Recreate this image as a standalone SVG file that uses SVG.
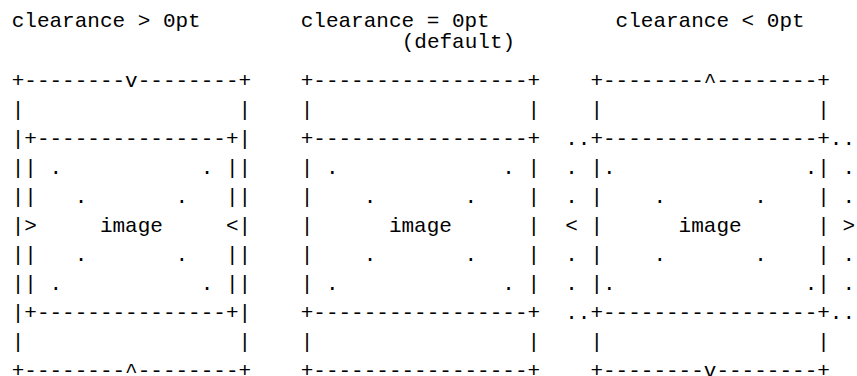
<svg xmlns="http://www.w3.org/2000/svg" width="857" height="376" viewBox="0 0 857 376" xml:space="preserve">
<style>
.t{font-family:"Liberation Mono","DejaVu Sans Mono",monospace;font-size:21px;fill:#000;white-space:pre}
</style>
<rect width="857" height="376" fill="#fff"/>
<g id="headers">
<text class="t" x="11.7" y="27">clearance &gt; 0pt</text>
<text class="t" x="300.7" y="27">clearance = 0pt</text>
<text class="t" x="401.7" y="48">(default)</text>
<text class="t" x="615.6" y="27">clearance &lt; 0pt</text>
</g>
<g id="panel-gt">
<text class="t" x="11.7" y="87.4">+--------v--------+</text>
<text class="t" x="11.7" y="116.4">|                 |</text>
<text class="t" x="11.7" y="145.4">|+---------------+|</text>
<text class="t" x="11.7" y="174.4">|| .           . ||</text>
<text class="t" x="11.7" y="203.4">||   .       .   ||</text>
<text class="t" x="11.7" y="232.4">|&gt;     image     &lt;|</text>
<text class="t" x="11.7" y="261.4">||   .       .   ||</text>
<text class="t" x="11.7" y="290.4">|| .           . ||</text>
<text class="t" x="11.7" y="319.4">|+---------------+|</text>
<text class="t" x="11.7" y="348.4">|                 |</text>
<text class="t" x="11.7" y="377.4">+--------^--------+</text>
</g>
<g id="panel-eq">
<text class="t" x="300.7" y="87.4">+-----------------+</text>
<text class="t" x="300.7" y="116.4">|                 |</text>
<text class="t" x="300.7" y="145.4">+-----------------+</text>
<text class="t" x="300.7" y="174.4">| .             . |</text>
<text class="t" x="300.7" y="203.4">|    .       .    |</text>
<text class="t" x="300.7" y="232.4">|      image      |</text>
<text class="t" x="300.7" y="261.4">|    .       .    |</text>
<text class="t" x="300.7" y="290.4">| .             . |</text>
<text class="t" x="300.7" y="319.4">+-----------------+</text>
<text class="t" x="300.7" y="348.4">|                 |</text>
<text class="t" x="300.7" y="377.4">+-----------------+</text>
</g>
<g id="panel-lt">
<text class="t" x="590.4" y="87.4">+--------^--------+</text>
<text class="t" x="590.4" y="116.4">|                 |</text>
<text class="t" x="565.2" y="145.4">..+-----------------+..</text>
<text class="t" x="565.2" y="174.4">. |.               .| .</text>
<text class="t" x="565.2" y="203.4">. |    .       .    | .</text>
<text class="t" x="565.2" y="232.4">&lt; |      image      | &gt;</text>
<text class="t" x="565.2" y="261.4">. |    .       .    | .</text>
<text class="t" x="565.2" y="290.4">. |.               .| .</text>
<text class="t" x="565.2" y="319.4">..+-----------------+..</text>
<text class="t" x="590.4" y="348.4">|                 |</text>
<text class="t" x="590.4" y="377.4">+--------v--------+</text>
</g>
</svg>
